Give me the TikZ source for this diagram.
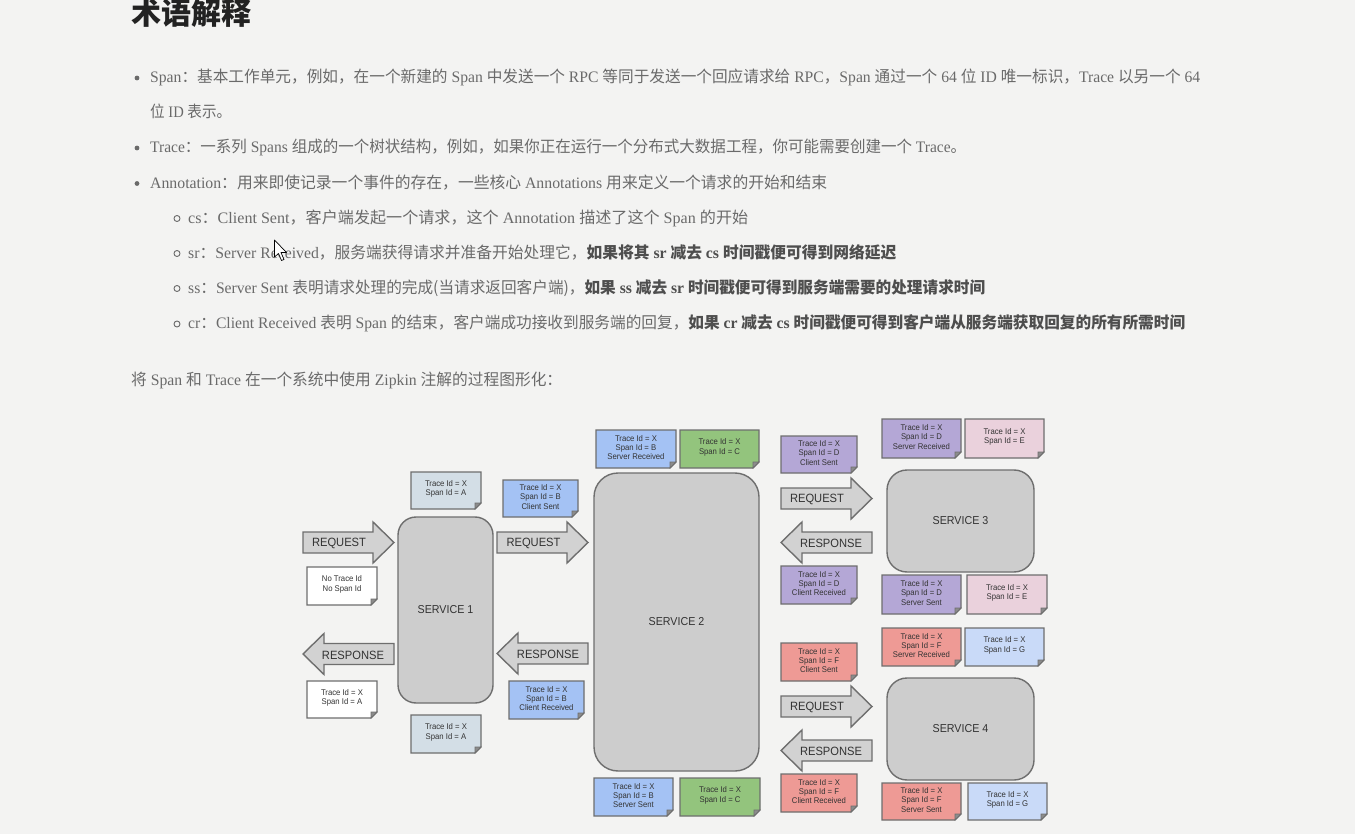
\documentclass[tikz,border=0pt]{standalone}
\usepackage{fontspec}
\usepackage{graphicx}
\setmainfont{Liberation Serif}
\newfontfamily\cjk{Noto Sans CJK SC}
\newfontfamily\dsans[FakeStretch=0.93]{Liberation Sans}

\definecolor{pagebg}{HTML}{F3F3F2}
\definecolor{bodytext}{HTML}{6A6A6A}
\definecolor{boldtext}{HTML}{4E4E4E}
\definecolor{titletext}{HTML}{222222}
\definecolor{edgegray}{HTML}{6E6E6E}
\definecolor{servicefill}{HTML}{CDCDCD}
\definecolor{arrowfill}{HTML}{D2D2D2}
\definecolor{foldgray}{HTML}{8C8C8C}
\definecolor{noteA}{HTML}{D3DEE6}
\definecolor{noteW}{HTML}{FFFFFF}
\definecolor{noteB}{HTML}{A4C2F4}
\definecolor{noteC}{HTML}{93C47D}
\definecolor{noteD}{HTML}{B4A7D6}
\definecolor{noteE}{HTML}{EAD1DC}
\definecolor{noteF}{HTML}{EE9A95}
\definecolor{noteG}{HTML}{C9DAF8}

% Chinese runs inside the serif text
\newcommand\zh[1]{{\cjk #1}}
% stretch a line of text to a given width, keeping its height
\newcommand\fitline[2]{\resizebox{#1}{\height}{#2}}

% sticky note with a folded lower right corner: name, x1, y1, x2, y2, fill, text
\newcommand\stickynote[7]{%
  \path[notebody, fill=#6] (#2,#3) -- (#4,#3) -- (#4,#5-6) -- (#4-6,#5) -- (#2,#5) -- cycle;
  \path[notefold] (#4,#5-6) -- (#4-6,#5-6) -- (#4-6,#5) -- cycle;
  \node[notetext] (#1) at ({(#2+#4)/2},{(#3+#5)/2-1.5}) {#7};
}

\tikzset{
  bodyline/.style={anchor=base west, inner sep=0pt, text=bodytext, font=\fontsize{16}{19}\selectfont},
  bullet/.style={fill=bodytext, draw=none},
  subbullet/.style={draw=bodytext, line width=0.9pt, fill=none},
  service/.style={draw=edgegray, line width=1.4pt, fill=servicefill, rounded corners=18pt,
    inner sep=0pt, text=black!80, font=\dsans\fontsize{11.5}{13}\selectfont},
  blockarrow/.style={draw=edgegray, line width=1.4pt, fill=arrowfill, line join=miter},
  arrowlabel/.style={inner sep=0pt, text=black!80, font=\dsans\fontsize{12}{14}\selectfont},
  notebody/.style={draw=edgegray, line width=1.2pt, line join=miter},
  notefold/.style={fill=foldgray, draw=edgegray, line width=0.8pt},
  notetext/.style={inner sep=0pt, align=center, text=black!80,
    font=\dsans\fontsize{8.3}{9.4}\selectfont},
  rarrow/.pic={\path[blockarrow] (0,-10.5) -- (70,-10.5) -- (70,-20.5) -- (91,0)
      -- (70,20.5) -- (70,10.5) -- (0,10.5) -- cycle;},
  larrow/.pic={\path[blockarrow] (91,-10.5) -- (21,-10.5) -- (21,-20.5) -- (0,0)
      -- (21,20.5) -- (21,10.5) -- (91,10.5) -- cycle;},
}

\begin{document}
\begin{tikzpicture}[x=1pt, y=-1pt]
\useasboundingbox (0,0) rectangle (1355,834);
\fill[pagebg] (0,0) rectangle (1355,834);

% heading
\node[anchor=base west, inner sep=0pt, text=titletext, font=\cjk\bfseries\fontsize{30}{34}\selectfont]
  (title) at (131,25) {术语解释};

% bullet list
\fill[bullet] (137,78) circle (2.4);
\node[bodyline] (l1) at (150,83) {\fitline{1050pt}{Span\zh{：基本工作单元，例如，在一个新建的} Span \zh{中发送一个} RPC \zh{等同于发送一个回应请求给} RPC\zh{，}Span \zh{通过一个} 64 \zh{位} ID \zh{唯一标识，}Trace \zh{以另一个} 64}};
\node[bodyline] (l2) at (150,118) {\fitline{81pt}{\zh{位} ID \zh{表示。}}};

\fill[bullet] (137,148) circle (2.4);
\node[bodyline] (l3) at (150,153) {\fitline{816pt}{Trace\zh{：一系列} Spans \zh{组成的一个树状结构，例如，如果你正在运行一个分布式大数据工程，你可能需要创建一个} Trace\zh{。}}};

\fill[bullet] (137,183.5) circle (2.4);
\node[bodyline] (l4) at (150,188.5) {\fitline{677pt}{Annotation\zh{：用来即使记录一个事件的存在，一些核心} Annotations \zh{用来定义一个请求的开始和结束}}};

\draw[subbullet] (177,218.5) circle (3);
\node[bodyline] (cs) at (188,223.5) {\fitline{560pt}{cs\zh{：}Client Sent\zh{，客户端发起一个请求，这个} Annotation \zh{描述了这个} Span \zh{的开始}}};

\draw[subbullet] (177,253.5) circle (3);
\node[bodyline] (sr) at (188,258.5) {\fitline{708pt}{sr\zh{：}Server Received\zh{，服务端获得请求并准备开始处理它，}\color{boldtext}\bfseries\zh{如果将其} sr \zh{减去} cs \zh{时间戳便可得到网络延迟}}};

\draw[subbullet] (177,288.5) circle (3);
\node[bodyline] (ss) at (188,293.5) {\fitline{797pt}{ss\zh{：}Server Sent \zh{表明请求处理的完成(当请求返回客户端)，}\color{boldtext}\bfseries\zh{如果} ss \zh{减去} sr \zh{时间戳便可得到服务端需要的处理请求时间}}};

\draw[subbullet] (177,324) circle (3);
\node[bodyline] (cr) at (188,329) {\fitline{997pt}{cr\zh{：}Client Received \zh{表明} Span \zh{的结束，客户端成功接收到服务端的回复，}\color{boldtext}\bfseries\zh{如果} cr \zh{减去} cs \zh{时间戳便可得到客户端从服务端获取回复的所有所需时间}}};

\node[bodyline] (intro) at (131,385) {\fitline{431pt}{\zh{将} Span \zh{和} Trace \zh{在一个系统中使用} Zipkin \zh{注解的过程图形化：}}};

% mouse pointer
\draw[fill=white, draw=black, line width=0.7pt, line join=round]
  (274.5,240) -- (274.5,257) -- (278.5,253.5) -- (281.5,260.5) -- (284,259.5) -- (281,252.5) -- (286.5,252.5) -- cycle;

% services
\node[service, minimum width=95pt, minimum height=186pt] (s1) at (445.5,610) {SERVICE 1};
\node[service, minimum width=165pt, minimum height=298pt, rounded corners=24pt] (s2) at (676.5,622) {SERVICE 2};
\node[service, minimum width=147pt, minimum height=102pt, rounded corners=20pt] (s3) at (960.5,521) {SERVICE 3};
\node[service, minimum width=147pt, minimum height=102pt, rounded corners=20pt] (s4) at (960.5,729) {SERVICE 4};

% request / response arrows
\pic at (303,542.5) {rarrow};
\node[arrowlabel] (req1) at (339,543) {REQUEST};
\pic at (303,654) {larrow};
\node[arrowlabel] (resp1) at (353,655) {RESPONSE};
\pic at (497,542.5) {rarrow};
\node[arrowlabel] (req2) at (533.5,543) {REQUEST};
\pic at (497,653.5) {larrow};
\node[arrowlabel] (resp2) at (548,654.5) {RESPONSE};
\pic at (781,498.5) {rarrow};
\node[arrowlabel] (req3) at (817,499) {REQUEST};
\pic at (781,542.5) {larrow};
\node[arrowlabel] (resp3) at (831,543) {RESPONSE};
\pic at (781,706.5) {rarrow};
\node[arrowlabel] (req4) at (817,707) {REQUEST};
\pic at (781,750.5) {larrow};
\node[arrowlabel] (resp4) at (831,751) {RESPONSE};

% span annotations
\stickynote{nA1}{411}{472}{481}{509}{noteA}{Trace Id = X\\Span Id = A}
\stickynote{nW1}{307}{567}{377}{605}{noteW}{No Trace Id\\No Span Id}
\stickynote{nB1}{503}{480}{578}{517}{noteB}{Trace Id = X\\Span Id = B\\Client Sent}
\stickynote{nW2}{307}{681}{377}{718}{noteW}{Trace Id = X\\Span Id = A}
\stickynote{nA2}{411}{715}{481}{753}{noteA}{Trace Id = X\\Span Id = A}
\stickynote{nB2}{509}{681}{584}{719}{noteB}{Trace Id = X\\Span Id = B\\Client Received}
\stickynote{nB3}{596}{430}{676}{468}{noteB}{Trace Id = X\\Span Id = B\\Server Received}
\stickynote{nC1}{680}{430}{759}{468}{noteC}{Trace Id = X\\Span Id = C}
\stickynote{nB4}{594}{778}{673}{816}{noteB}{Trace Id = X\\Span Id = B\\Server Sent}
\stickynote{nC2}{680}{778}{760}{816}{noteC}{Trace Id = X\\Span Id = C}
\stickynote{nD1}{781}{436}{857}{473}{noteD}{Trace Id = X\\Span Id = D\\Client Sent}
\stickynote{nD2}{781}{566}{857}{604}{noteD}{Trace Id = X\\Span Id = D\\Client Received}
\stickynote{nD3}{882}{419}{961}{458}{noteD}{Trace Id = X\\Span Id = D\\Server Received}
\stickynote{nE1}{965}{419}{1044}{458}{noteE}{Trace Id = X\\Span Id = E}
\stickynote{nD4}{882}{575}{961}{614}{noteD}{Trace Id = X\\Span Id = D\\Server Sent}
\stickynote{nE2}{967}{575}{1047}{614}{noteE}{Trace Id = X\\Span Id = E}
\stickynote{nF1}{781}{643}{857}{681}{noteF}{Trace Id = X\\Span Id = F\\Client Sent}
\stickynote{nF2}{781}{774}{857}{812}{noteF}{Trace Id = X\\Span Id = F\\Client Received}
\stickynote{nF3}{882}{628}{961}{666}{noteF}{Trace Id = X\\Span Id = F\\Server Received}
\stickynote{nG1}{965}{628}{1044}{666}{noteG}{Trace Id = X\\Span Id = G}
\stickynote{nF4}{882}{783}{961}{820}{noteF}{Trace Id = X\\Span Id = F\\Server Sent}
\stickynote{nG2}{968}{783}{1047}{820}{noteG}{Trace Id = X\\Span Id = G}
\end{tikzpicture}
\end{document}
